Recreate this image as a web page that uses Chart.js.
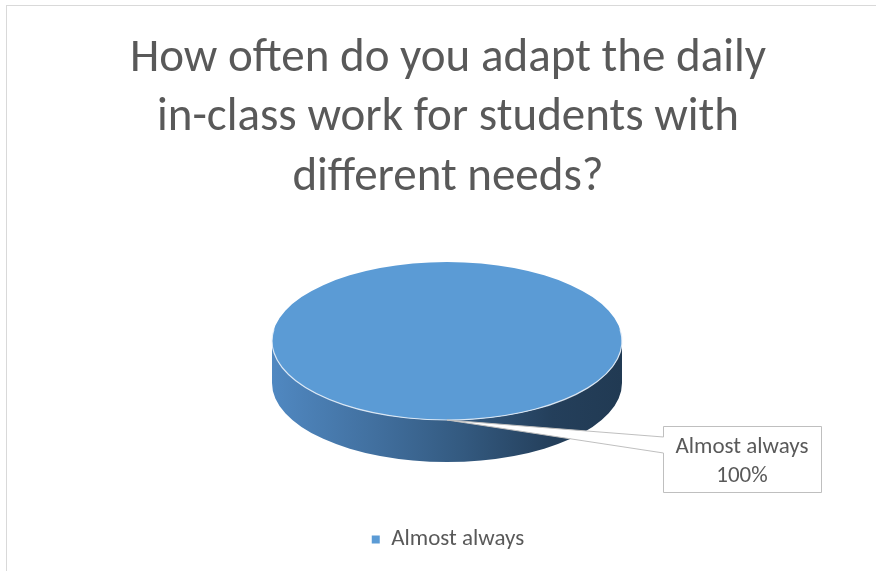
<!DOCTYPE html>
<html>
<head>
<meta charset="utf-8">
<title>Adapting daily in-class work</title>
<script src="https://cdn.jsdelivr.net/npm/chart.js@4.4.1/dist/chart.umd.min.js"></script>
<style>
  html, body { margin: 0; padding: 0; background: #fff; width: 876px; height: 571px; overflow: hidden; }
  #wrap { position: absolute; left: 0; top: 0; width: 896px; height: 580px; }
</style>
</head>
<body>
<div id="wrap"><canvas id="pieChart"></canvas></div>
<script>
// Survey answers
const categories = ['Almost always'];
const shares = [100];
const titleLines = ['How often do you adapt the daily', 'in-class work for students with', 'different needs?'];

const FONT = 'Carlito, Calibri, "Open Sans", sans-serif';
const TEXT_COLOR = '#595959';
const SLICE_COLOR = '#5b9bd5';

// flattened 3D pie: top ellipse + wall depth
const PIE = { cx: 447, cy: 341, rx: 175, ry: 79, depth: 42 };
// data callout box
const CALLOUT = { x: 663, y: 426, w: 158, h: 66, tipTop: 437, tipBottom: 453 };

const pie3d = {
  id: 'pie3d',
  beforeDraw(chart) {
    const { ctx } = chart;
    ctx.save();
    ctx.strokeStyle = '#d9d9d9';
    ctx.lineWidth = 1;
    ctx.strokeRect(6.5, 5.5, chart.width, chart.height);
    ctx.restore();
  },
  beforeDatasetsDraw(chart) {
    const { ctx } = chart;
    const arc = chart.getDatasetMeta(0).data[0];
    if (!arc) return;

    // front wall of the disc
    ctx.save();
    const g = ctx.createLinearGradient(PIE.cx - PIE.rx, 0, PIE.cx + PIE.rx, 0);
    g.addColorStop(0, '#5088c1');
    g.addColorStop(0.3, '#416f9e');
    g.addColorStop(0.55, '#33597f');
    g.addColorStop(0.8, '#243f5b');
    g.addColorStop(1, '#213a53');
    ctx.fillStyle = g;
    ctx.beginPath();
    ctx.ellipse(PIE.cx, PIE.cy, PIE.rx, PIE.ry, 0, 0, Math.PI);
    ctx.lineTo(PIE.cx - PIE.rx, PIE.cy + PIE.depth);
    ctx.ellipse(PIE.cx, PIE.cy + PIE.depth, PIE.rx, PIE.ry, 0, Math.PI, 0, true);
    ctx.closePath();
    ctx.fill();
    ctx.restore();

    // squash the circular pie onto the top ellipse
    ctx.save();
    ctx.translate(PIE.cx, PIE.cy);
    ctx.scale(PIE.rx / arc.outerRadius, PIE.ry / arc.outerRadius);
    ctx.translate(-arc.x, -arc.y);
  },
  afterDatasetsDraw(chart) {
    const { ctx } = chart;
    const arc = chart.getDatasetMeta(0).data[0];
    if (!arc) return;

    // light rim along the front edge
    ctx.beginPath();
    ctx.arc(arc.x, arc.y, arc.outerRadius, -0.15, Math.PI + 0.15);
    ctx.restore();
    ctx.save();
    ctx.strokeStyle = 'rgba(235,242,250,0.85)';
    ctx.lineWidth = 1.2;
    ctx.stroke();
    ctx.restore();

    // callout pointing at the middle of the slice
    const mid = (arc.startAngle + arc.endAngle) / 2;
    const px = PIE.cx + PIE.rx * Math.cos(mid);
    const py = PIE.cy + PIE.ry * Math.sin(mid);
    const c = CALLOUT;
    ctx.save();
    ctx.beginPath();
    ctx.moveTo(c.x + 0.5, c.y + 0.5);
    ctx.lineTo(c.x + c.w + 0.5, c.y + 0.5);
    ctx.lineTo(c.x + c.w + 0.5, c.y + c.h + 0.5);
    ctx.lineTo(c.x + 0.5, c.y + c.h + 0.5);
    ctx.lineTo(c.x + 0.5, c.tipBottom);
    ctx.lineTo(px, py);
    ctx.lineTo(c.x + 0.5, c.tipTop);
    ctx.closePath();
    ctx.fillStyle = '#ffffff';
    ctx.fill();
    ctx.strokeStyle = '#bfbfbf';
    ctx.lineWidth = 1;
    ctx.stroke();

    const value = chart.data.datasets[0].data[0];
    const total = chart.data.datasets[0].data.reduce((a, b) => a + b, 0);
    ctx.fillStyle = TEXT_COLOR;
    ctx.font = '23px ' + FONT;
    ctx.textAlign = 'center';
    ctx.textBaseline = 'middle';
    ctx.fillText(chart.data.labels[0], c.x + c.w / 2, c.y + 21);
    ctx.fillText(Math.round(value / total * 100) + '%', c.x + c.w / 2, c.y + 50);
    ctx.restore();
  }
};

new Chart(document.getElementById('pieChart'), {
  type: 'pie',
  data: {
    labels: categories,
    datasets: [{
      data: shares,
      backgroundColor: [SLICE_COLOR],
      borderWidth: 0,
      clip: false
    }]
  },
  options: {
    responsive: true,
    maintainAspectRatio: false,
    animation: false,
    events: [],
    layout: { padding: { top: 0, bottom: 19 } },
    plugins: {
      title: {
        display: true,
        text: titleLines,
        color: TEXT_COLOR,
        font: { family: FONT, size: 47, weight: 'normal', lineHeight: 1.27 },
        padding: { top: 29, bottom: 10 }
      },
      legend: {
        position: 'bottom',
        labels: {
          boxWidth: 8,
          boxHeight: 8,
          color: TEXT_COLOR,
          font: { family: FONT, size: 23 }
        }
      },
      tooltip: { enabled: false }
    }
  },
  plugins: [pie3d]
});
</script>
</body>
</html>
